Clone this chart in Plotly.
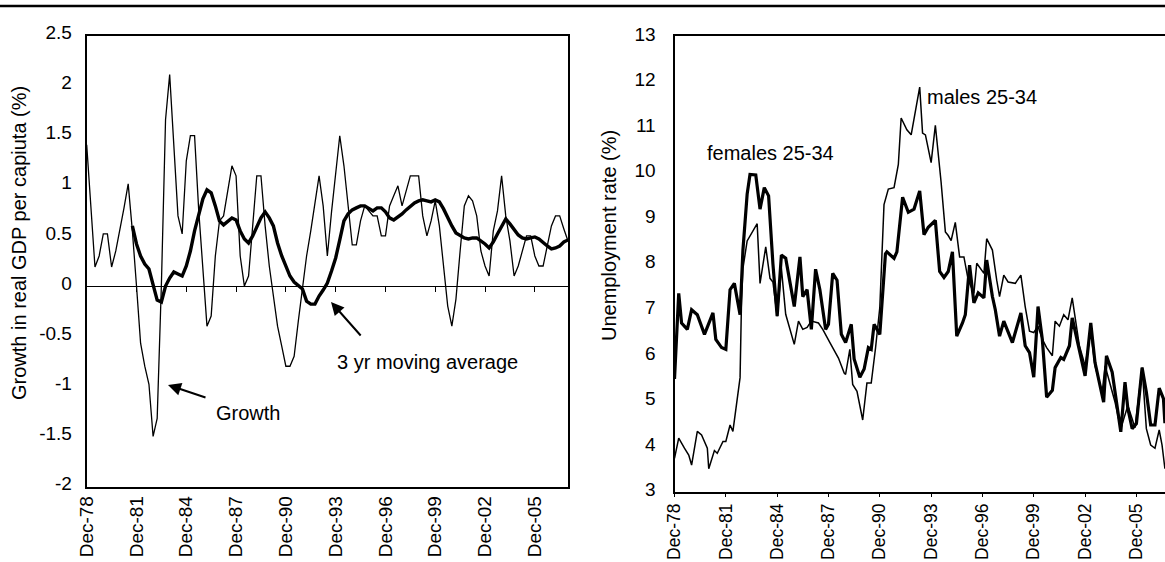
import plotly.graph_objects as go

W, H = 1165, 562

# ---------------- data ----------------
# Left panel: quarterly, starting Dec-1978
growth = [
    1.41, 0.8, 0.19, 0.3, 0.52, 0.52, 0.19, 0.35, 0.55, 0.78,
    1.02, 0.55, 0.0, -0.57, -0.8, -0.98, -1.5, -1.32, 0.0, 1.66,
    2.11, 1.4, 0.7, 0.52, 1.25, 1.5, 1.5, 0.75, 0.15, -0.4,
    -0.3, 0.3, 0.65, 0.7, 0.95, 1.2, 1.1, 0.3, 0.0, 0.1,
    0.6, 1.1, 1.1, 0.6, 0.2, -0.1, -0.4, -0.6, -0.8, -0.8,
    -0.7, -0.35, 0.0, 0.3, 0.55, 0.85, 1.1, 0.8, 0.3, 0.74,
    1.1, 1.5, 1.2, 0.8, 0.41, 0.41, 0.65, 0.8, 0.75, 0.7,
    0.7, 0.5, 0.5, 0.8, 0.9, 1.0, 0.8, 0.95, 1.1, 1.1,
    1.1, 0.7, 0.5, 0.65, 0.85, 0.6, 0.2, -0.2, -0.4, -0.13,
    0.35, 0.8, 0.9, 0.85, 0.7, 0.35, 0.2, 0.1, 0.55, 0.75,
    1.1, 0.7, 0.45, 0.1, 0.2, 0.35, 0.5, 0.5, 0.3, 0.2,
    0.2, 0.4, 0.6, 0.7, 0.7, 0.57, 0.45,
]
moving_avg = [None] * 11 + [
    0.6, 0.42, 0.3, 0.22, 0.17, 0.0, -0.14, -0.16, 0.0,
    0.08, 0.14, 0.12, 0.1, 0.2, 0.35, 0.55, 0.72, 0.87, 0.96,
    0.93, 0.8, 0.65, 0.61, 0.64, 0.68, 0.66, 0.55, 0.47, 0.43,
    0.5, 0.6, 0.68, 0.74, 0.68, 0.6, 0.43, 0.3, 0.19, 0.1,
    0.04, 0.0, -0.03, -0.15, -0.18, -0.18, -0.1, -0.04, 0.03, 0.15,
    0.28, 0.46, 0.65, 0.72, 0.76, 0.78, 0.8, 0.8, 0.77, 0.75,
    0.78, 0.78, 0.74, 0.68, 0.66, 0.69, 0.72, 0.76, 0.8, 0.83,
    0.85, 0.86, 0.85, 0.84, 0.86, 0.84, 0.77, 0.68, 0.6, 0.53,
    0.5, 0.48, 0.47, 0.48, 0.48, 0.45, 0.42, 0.38, 0.44, 0.52,
    0.6, 0.67, 0.62, 0.56, 0.51, 0.48, 0.47, 0.48, 0.49, 0.47,
    0.43, 0.4, 0.37, 0.38, 0.4, 0.44, 0.46,
]

# Right panel: unemployment rate (%), 25-34 year olds
fem_dates = [
    "1978-12", "1979-03", "1979-05", "1979-09", "1979-12", "1980-04", "1980-09", "1981-03",
    "1981-05", "1981-09", "1981-12", "1982-03", "1982-06", "1982-10", "1982-12", "1983-03",
    "1983-05", "1983-09", "1983-12", "1984-03", "1984-06", "1984-09", "1984-12", "1985-03",
    "1985-06", "1985-12", "1986-04", "1986-06", "1986-09", "1986-12", "1987-03", "1987-06",
    "1987-10", "1987-12", "1988-03", "1988-06", "1988-09", "1988-12", "1989-04", "1989-06",
    "1989-10", "1990-01", "1990-04", "1990-06", "1990-08", "1990-12", "1991-04", "1991-05",
    "1991-10", "1991-12", "1992-04", "1992-08", "1992-12", "1993-04", "1993-07", "1993-10",
    "1994-03", "1994-06", "1994-09", "1994-12", "1995-03", "1995-06", "1995-10", "1995-12",
    "1996-03", "1996-06", "1996-09", "1997-01", "1997-03", "1997-07", "1997-09", "1997-12",
    "1998-03", "1998-09", "1999-03", "1999-06", "1999-09", "1999-12", "2000-03", "2000-06",
    "2000-09", "2001-01", "2001-03", "2001-07", "2001-09", "2002-01", "2002-03", "2002-07",
    "2002-12", "2003-04", "2003-07", "2004-01", "2004-03", "2004-07", "2005-01", "2005-04",
    "2005-06", "2005-09", "2005-12", "2006-04", "2006-07", "2006-10", "2007-01", "2007-04",
    "2007-07", "2007-08",
]
fem_rate = [
    5.47, 7.35, 6.7, 6.56, 6.99, 6.88, 6.45, 6.92, 6.34, 6.16,
    6.12, 7.43, 7.57, 6.88, 8.3, 9.53, 9.96, 9.95, 9.2, 9.67,
    9.49, 8.0, 6.85, 8.19, 8.12, 7.06, 8.15, 7.28, 7.43, 6.56,
    7.88, 7.43, 6.56, 6.67, 7.79, 7.64, 6.45, 6.27, 6.67, 5.91,
    5.51, 5.69, 6.16, 6.12, 6.67, 6.45, 8.22, 8.26, 8.12, 8.26,
    9.46, 9.13, 9.2, 9.6, 8.64, 8.8, 8.95, 7.83, 7.7, 7.83,
    8.26, 6.41, 6.7, 6.88, 7.97, 7.14, 7.36, 7.25, 8.08, 7.28,
    6.99, 6.41, 6.74, 6.27, 6.92, 6.2, 6.05, 5.51, 7.06, 6.34,
    5.07, 5.22, 5.72, 5.94, 5.9, 6.2, 6.81, 6.27, 5.54, 6.7,
    5.83, 4.96, 5.98, 5.62, 4.31, 5.4, 4.82, 4.38, 4.49, 5.72,
    5.18, 4.46, 4.46, 5.27, 5.04, 4.5,
]
male_dates = [
    "1978-12", "1979-03", "1979-07", "1979-10", "1979-12", "1980-03", "1980-04", "1980-07",
    "1980-11", "1980-12", "1981-04", "1981-06", "1981-10", "1981-12", "1982-03", "1982-05",
    "1982-07", "1982-10", "1982-11", "1982-12", "1983-03", "1983-06", "1983-10", "1983-12",
    "1984-02", "1984-04", "1984-07", "1984-09", "1984-12", "1985-03", "1985-06", "1985-12",
    "1986-03", "1986-06", "1986-09", "1986-12", "1987-05", "1987-08", "1988-01", "1988-07",
    "1988-11", "1988-12", "1989-03", "1989-05", "1989-08", "1989-12", "1990-03", "1990-06",
    "1990-09", "1990-12", "1991-02", "1991-03", "1991-06", "1991-10", "1992-01", "1992-03",
    "1992-07", "1992-10", "1993-04", "1993-06", "1993-08", "1993-12", "1994-03", "1994-07",
    "1994-10", "1994-12", "1995-02", "1995-05", "1995-08", "1995-11", "1996-02", "1996-06",
    "1996-08", "1997-01", "1997-03", "1997-07", "1997-10", "1997-12", "1998-03", "1998-06",
    "1998-11", "1999-03", "1999-06", "1999-09", "1999-12", "2000-03", "2000-06", "2000-09",
    "2001-01", "2001-03", "2001-06", "2001-09", "2001-12", "2002-03", "2002-08", "2002-12",
    "2003-04", "2003-07", "2003-12", "2004-02", "2004-09", "2005-01", "2005-06", "2005-11",
    "2006-04", "2006-07", "2006-10", "2007-01", "2007-04", "2007-06", "2007-08",
]
male_rate = [
    3.73, 4.17, 3.95, 3.8, 3.58, 4.1, 4.32, 4.24, 3.95, 3.5,
    3.9, 3.84, 4.1, 4.1, 4.46, 4.32, 4.83, 5.5, 7.2, 7.9,
    8.5, 8.66, 8.88, 7.57, 8.0, 8.37, 7.68, 7.6, 6.85, 7.9,
    6.89, 6.23, 6.74, 6.56, 6.6, 6.74, 6.7, 6.56, 6.27, 5.93,
    5.6, 5.57, 6.12, 5.35, 5.2, 4.57, 5.38, 5.38, 6.15, 7.04,
    8.6, 9.3, 9.64, 9.67, 10.18, 11.2, 10.94, 10.83, 11.88, 10.87,
    10.83, 10.22, 11.04, 9.8, 8.7, 8.62, 8.51, 8.91, 8.15, 8.15,
    7.64, 7.35, 8.01, 7.79, 8.55, 8.3, 7.64, 7.28, 7.75, 7.6,
    7.57, 7.75, 7.06, 6.52, 6.49, 6.63, 6.34, 6.16, 5.98, 6.74,
    6.63, 6.88, 6.77, 7.25, 6.2, 5.76, 6.5, 5.76, 5.18, 5.76,
    4.96, 4.38, 4.89, 4.4, 5.72, 4.38, 4.02, 3.95, 4.35, 4.02,
    3.5,
]

tick_years = [1978, 1981, 1984, 1987, 1990, 1993, 1996, 1999, 2002, 2005]
tick_labels = ["Dec-78", "Dec-81", "Dec-84", "Dec-87", "Dec-90",
               "Dec-93", "Dec-96", "Dec-99", "Dec-02", "Dec-05"]
left_yticks = [2.5, 2, 1.5, 1, 0.5, 0, -0.5, -1, -1.5, -2]
left_ytext = ["2.5", "2", "1.5", "1", "0.5", "0", "-0.5", "-1", "-1.5", "-2"]
right_yticks = [3, 4, 5, 6, 7, 8, 9, 10, 11, 12, 13]
right_ytext = ["3", "4", "5", "6", "7", "8", "9", "10", "11", "12", "13"]


def quarter_dates(n, y=1978, m=12):
    out = []
    for _ in range(n):
        out.append(f"{y}-{m:02d}-01")
        m += 3
        if m > 12:
            m -= 12
            y += 1
    return out


gdp_dates = quarter_dates(len(growth))
tickvals = [f"{y}-12-01" for y in tick_years]

# ---------------- layout helpers ----------------
def px(x):
    return x / W


def py(y):
    return 1 - y / H


FONT = "Liberation Sans, Arial, sans-serif"
BLACK = "#000000"

fig = go.Figure()

fig.add_trace(go.Scatter(x=gdp_dates, y=growth, mode="lines", xaxis="x3", yaxis="y",
                         line=dict(color=BLACK, width=1.3), name="Growth",
                         showlegend=False, hoverinfo="skip"))
fig.add_trace(go.Scatter(x=gdp_dates, y=moving_avg, mode="lines", xaxis="x", yaxis="y",
                         line=dict(color=BLACK, width=3.4), name="3 yr moving average",
                         showlegend=False, connectgaps=False, hoverinfo="skip"))
fig.add_trace(go.Scatter(x=fem_dates, y=fem_rate, mode="lines", xaxis="x2", yaxis="y2",
                         line=dict(color=BLACK, width=3.2), name="females 25-34",
                         showlegend=False, hoverinfo="skip"))
fig.add_trace(go.Scatter(x=male_dates, y=male_rate, mode="lines", xaxis="x2", yaxis="y2",
                         line=dict(color=BLACK, width=1.5), name="males 25-34",
                         showlegend=False, hoverinfo="skip"))

tickfont = dict(family=FONT, size=19, color=BLACK)
tickfont_r = dict(family=FONT, size=17.5, color=BLACK)
left_range_x = ["1978-12-01", "2007-12-01"]

fig.update_layout(
    template="none",
    width=W, height=H, autosize=False,
    margin=dict(l=0, r=0, t=0, b=0, pad=0),
    paper_bgcolor="white", plot_bgcolor="white",
    font=dict(family=FONT, color=BLACK),
    showlegend=False,
    xaxis=dict(domain=[px(86.7), px(568)], type="date", range=left_range_x,
               automargin=False,
               showline=True, linecolor=BLACK, linewidth=2, mirror=True,
               ticks="", tickmode="array", tickvals=tickvals, ticktext=tick_labels,
               tickangle=-90, tickfont=tickfont, showgrid=False, zeroline=False,
               anchor="y"),
    xaxis3=dict(type="date", range=left_range_x, overlaying="x", anchor="free",
                automargin=False,
                position=py(286), showline=True, linecolor=BLACK, linewidth=1,
                ticks="outside", ticklen=5, tickwidth=1, tickcolor=BLACK,
                tickmode="array", tickvals=tickvals[1:], showticklabels=False,
                showgrid=False, zeroline=False),
    yaxis=dict(domain=[py(486.5), py(35.5)], range=[-2, 2.5],
               automargin=False,
               showline=True, linecolor=BLACK, linewidth=2, mirror=True,
               ticks="", tickmode="array", tickvals=left_yticks, ticktext=left_ytext,
               tickfont=tickfont, showgrid=False, zeroline=False,
               ticklabelstandoff=9, ticklabelshift=-3, anchor="x"),
    xaxis2=dict(domain=[px(674.5), 1.0], type="date", range=["1978-12-01", "2007-08-03"],
                automargin=False,
                showline=True, linecolor=BLACK, linewidth=2, mirror=True,
                ticks="outside", ticklen=3, tickwidth=1, tickcolor=BLACK,
                tickmode="array", tickvals=tickvals, ticktext=tick_labels,
                tickangle=-90, tickfont=tickfont_r, showgrid=False, zeroline=False,
                anchor="y2"),
    yaxis2=dict(domain=[py(491.5), py(36)], range=[3, 13],
                automargin=False,
                showline=True, linecolor=BLACK, linewidth=2, mirror=False,
                ticks="", tickmode="array", tickvals=right_yticks, ticktext=right_ytext,
                tickfont=tickfont, showgrid=False, zeroline=False,
                ticklabelstandoff=13, ticklabelshift=-2, anchor="x2"),
)

# top rule
fig.add_shape(type="line", xref="paper", yref="paper", x0=0, x1=1, y0=py(6), y1=py(6),
              line=dict(color=BLACK, width=2.5))

annfont = dict(family=FONT, size=20, color=BLACK)
titlefont = dict(family=FONT, size=20, color=BLACK)

# axis titles
fig.add_annotation(text="Growth in real GDP per capiuta (%)", xref="paper", yref="paper",
                   x=px(19), y=py(243), textangle=-90, showarrow=False, font=titlefont,
                   xanchor="center", yanchor="middle")
fig.add_annotation(text="Unemployment rate (%)", xref="paper", yref="paper",
                   x=px(609), y=py(236), textangle=-90, showarrow=False, font=titlefont,
                   xanchor="center", yanchor="middle")

# series labels
fig.add_annotation(text="3 yr moving average", xref="paper", yref="paper",
                   x=px(335), y=py(362), xanchor="left", yanchor="middle",
                   showarrow=False, font=annfont)
fig.add_annotation(text="Growth", xref="paper", yref="paper",
                   x=px(214), y=py(413), xanchor="left", yanchor="middle",
                   showarrow=False, font=annfont)
fig.add_annotation(text="females 25-34", xref="paper", yref="paper",
                   x=px(705), y=py(153), xanchor="left", yanchor="middle",
                   showarrow=False, font=annfont)
fig.add_annotation(text="males 25-34", xref="paper", yref="paper",
                   x=px(925), y=py(97), xanchor="left", yanchor="middle",
                   showarrow=False, font=annfont)

# arrows (head at x,y; tail offset ax, ay in pixels)
fig.add_annotation(text="", xref="paper", yref="paper", x=px(331), y=py(302),
                   ax=31, ay=35, showarrow=True, arrowhead=2, arrowsize=1.3,
                   arrowwidth=2, arrowcolor=BLACK, standoff=0)
fig.add_annotation(text="", xref="paper", yref="paper", x=px(168), y=py(385),
                   ax=39, ay=13, showarrow=True, arrowhead=2, arrowsize=1.3,
                   arrowwidth=2, arrowcolor=BLACK, standoff=0)

fig.write_html(
    "out.html",
    config={"displayModeBar": False, "staticPlot": True},
    post_script="document.body.style.margin='0px';document.body.style.padding='0px';"
                "document.body.style.overflow='hidden';",
)
